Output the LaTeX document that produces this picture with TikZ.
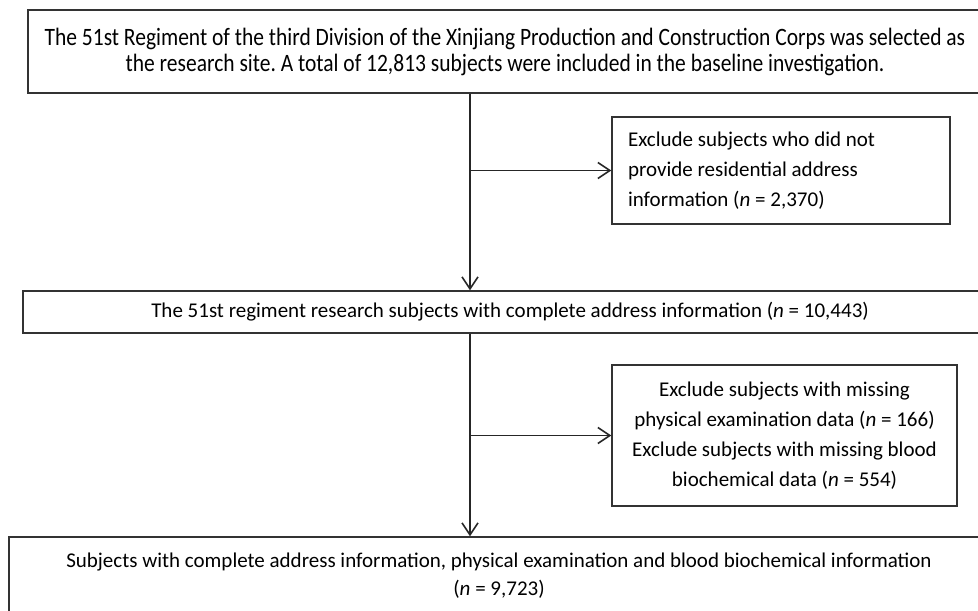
\documentclass[tikz,border=0pt]{standalone}
\usepackage{fontspec}
\setmainfont{Carlito}
\newfontfamily\narrowfont[FakeStretch=0.86]{Carlito}
\usetikzlibrary{arrows.meta}
\frenchspacing
\begin{document}
\begin{tikzpicture}[x=0.5pt, y=-0.5pt]
    \tikzset{box/.style={draw=black!80, line width=0.7pt, inner sep=0pt, align=center, font=\fontsize{10.5pt}{15pt}\selectfont},
             flow/.style={draw=black!85, line width=0.8pt, -{Straight Barb[length=6pt,width=8pt]}}}
    \clip (0,0) rectangle (978,610);

    \node[box, minimum width=477pt, minimum height=41.5pt, font=\narrowfont\fontsize{12.5pt}{13pt}\selectfont] (b1) at (505,51.5)
        {The 51st Regiment of the third Division of the Xinjiang Production and Construction Corps was selected as\\
         the research site. A total of 12,813 subjects were included in the baseline investigation.};
    \node[box, minimum width=169pt, minimum height=53.5pt, text width=153pt, align=flush left] (e1) at (781,170.5)
        {Exclude subjects who did not\\ provide residential address\\ information (\textit{n} = 2,370)};
    \node[box, minimum width=487pt, minimum height=21pt] (b2) at (510,312)
        {The 51st regiment research subjects with complete address information (\textit{n} = 10,443)};
    \node[box, minimum width=172.5pt, minimum height=70.5pt] (e2) at (784.5,435.5)
        {Exclude subjects with missing\\ physical examination data (\textit{n} = 166)\\
         Exclude subjects with missing blood\\ biochemical data (\textit{n} = 554)};
    \node[box, minimum width=490pt, minimum height=39pt, font=\fontsize{10.5pt}{14pt}\selectfont] (b3) at (499,576)
        {Subjects with complete address information, physical examination and blood biochemical information\\ (\textit{n} = 9,723)};

    \coordinate (s) at (470,0);
    \draw[flow] (b1.south -| s) -- (b2.north -| s);
    \draw[flow] (s |- e1.west) -- (e1.west);
    \draw[flow] (b2.south -| s) -- (b3.north -| s);
    \draw[flow] (s |- e2.west) -- (e2.west);
\end{tikzpicture}
\end{document}
